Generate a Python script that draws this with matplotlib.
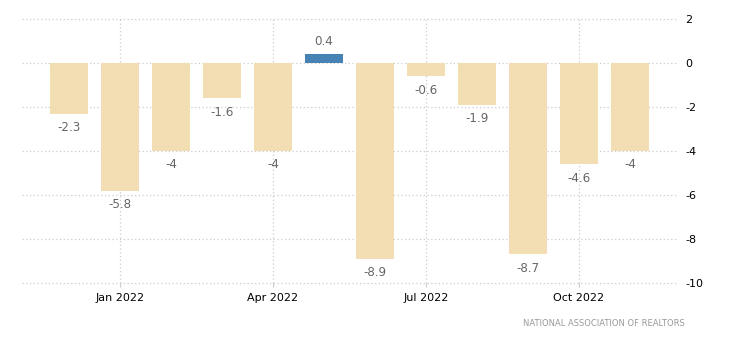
import matplotlib
matplotlib.use('Agg')
import matplotlib.pyplot as plt

# Monthly change, Dec 2021 .. Nov 2022
months = ['Dec 2021', 'Jan 2022', 'Feb 2022', 'Mar 2022', 'Apr 2022', 'May 2022',
          'Jun 2022', 'Jul 2022', 'Aug 2022', 'Sep 2022', 'Oct 2022', 'Nov 2022']
values = [-2.3, -5.8, -4, -1.6, -4, 0.4, -8.9, -0.6, -1.9, -8.7, -4.6, -4]
value_labels = ['-2.3', '-5.8', '-4', '-1.6', '-4', '0.4', '-8.9', '-0.6', '-1.9', '-8.7', '-4.6', '-4']
tick_labels = ['Jan 2022', 'Apr 2022', 'Jul 2022', 'Oct 2022']
yticks = [2, 0, -2, -4, -6, -8, -10]
source = 'NATIONAL ASSOCIATION OF REALTORS'


def main() -> None:
    plt.rcParams['font.family'] = ['DejaVu Sans']
    fig = plt.figure(figsize=(7.3, 3.5), dpi=100)
    ax = fig.add_axes([22 / 730, 1 - 283 / 350, (677 - 22) / 730, (283 - 19) / 350])

    x = list(range(len(values)))
    colors = ['#4682b4' if v > 0 else '#f3deb4' for v in values]
    ax.bar(x, values, width=0.74, color=colors, zorder=2)

    # value labels above/below each bar
    for xi, v, lab in zip(x, values, value_labels):
        off = 9 if v >= 0 else -10
        ax.annotate(lab, (xi, v), xytext=(0, off), textcoords='offset points',
                    ha='center', va='center', fontsize=8.6, color='#666666')

    ax.set_xlim(-0.92, len(values) - 1 + 0.92)
    ax.set_ylim(-10, 2)
    ax.set_yticks(yticks)
    ax.yaxis.tick_right()
    ax.set_yticklabels([str(t) for t in yticks], fontsize=8)

    tick_pos = [months.index(t) for t in tick_labels]
    ax.set_xticks(tick_pos)
    ax.set_xticklabels(tick_labels, fontsize=8)

    ax.grid(True, color='#cccccc', linestyle=(0, (1, 2)), linewidth=0.9, zorder=0)
    for line in ax.get_ygridlines() + ax.get_xgridlines():
        line.set_clip_on(False)
    ax.tick_params(axis='y', length=0, pad=6)
    ax.tick_params(axis='x', length=3, color='#cccccc', pad=4)
    for s in ax.spines.values():
        s.set_visible(False)

    fig.text(685 / 730, 1 - 324 / 350, source, ha='right', va='center',
             fontsize=6, color='#999999')

    fig.savefig('out.png', dpi=100)


if __name__ == "__main__":
    main()
